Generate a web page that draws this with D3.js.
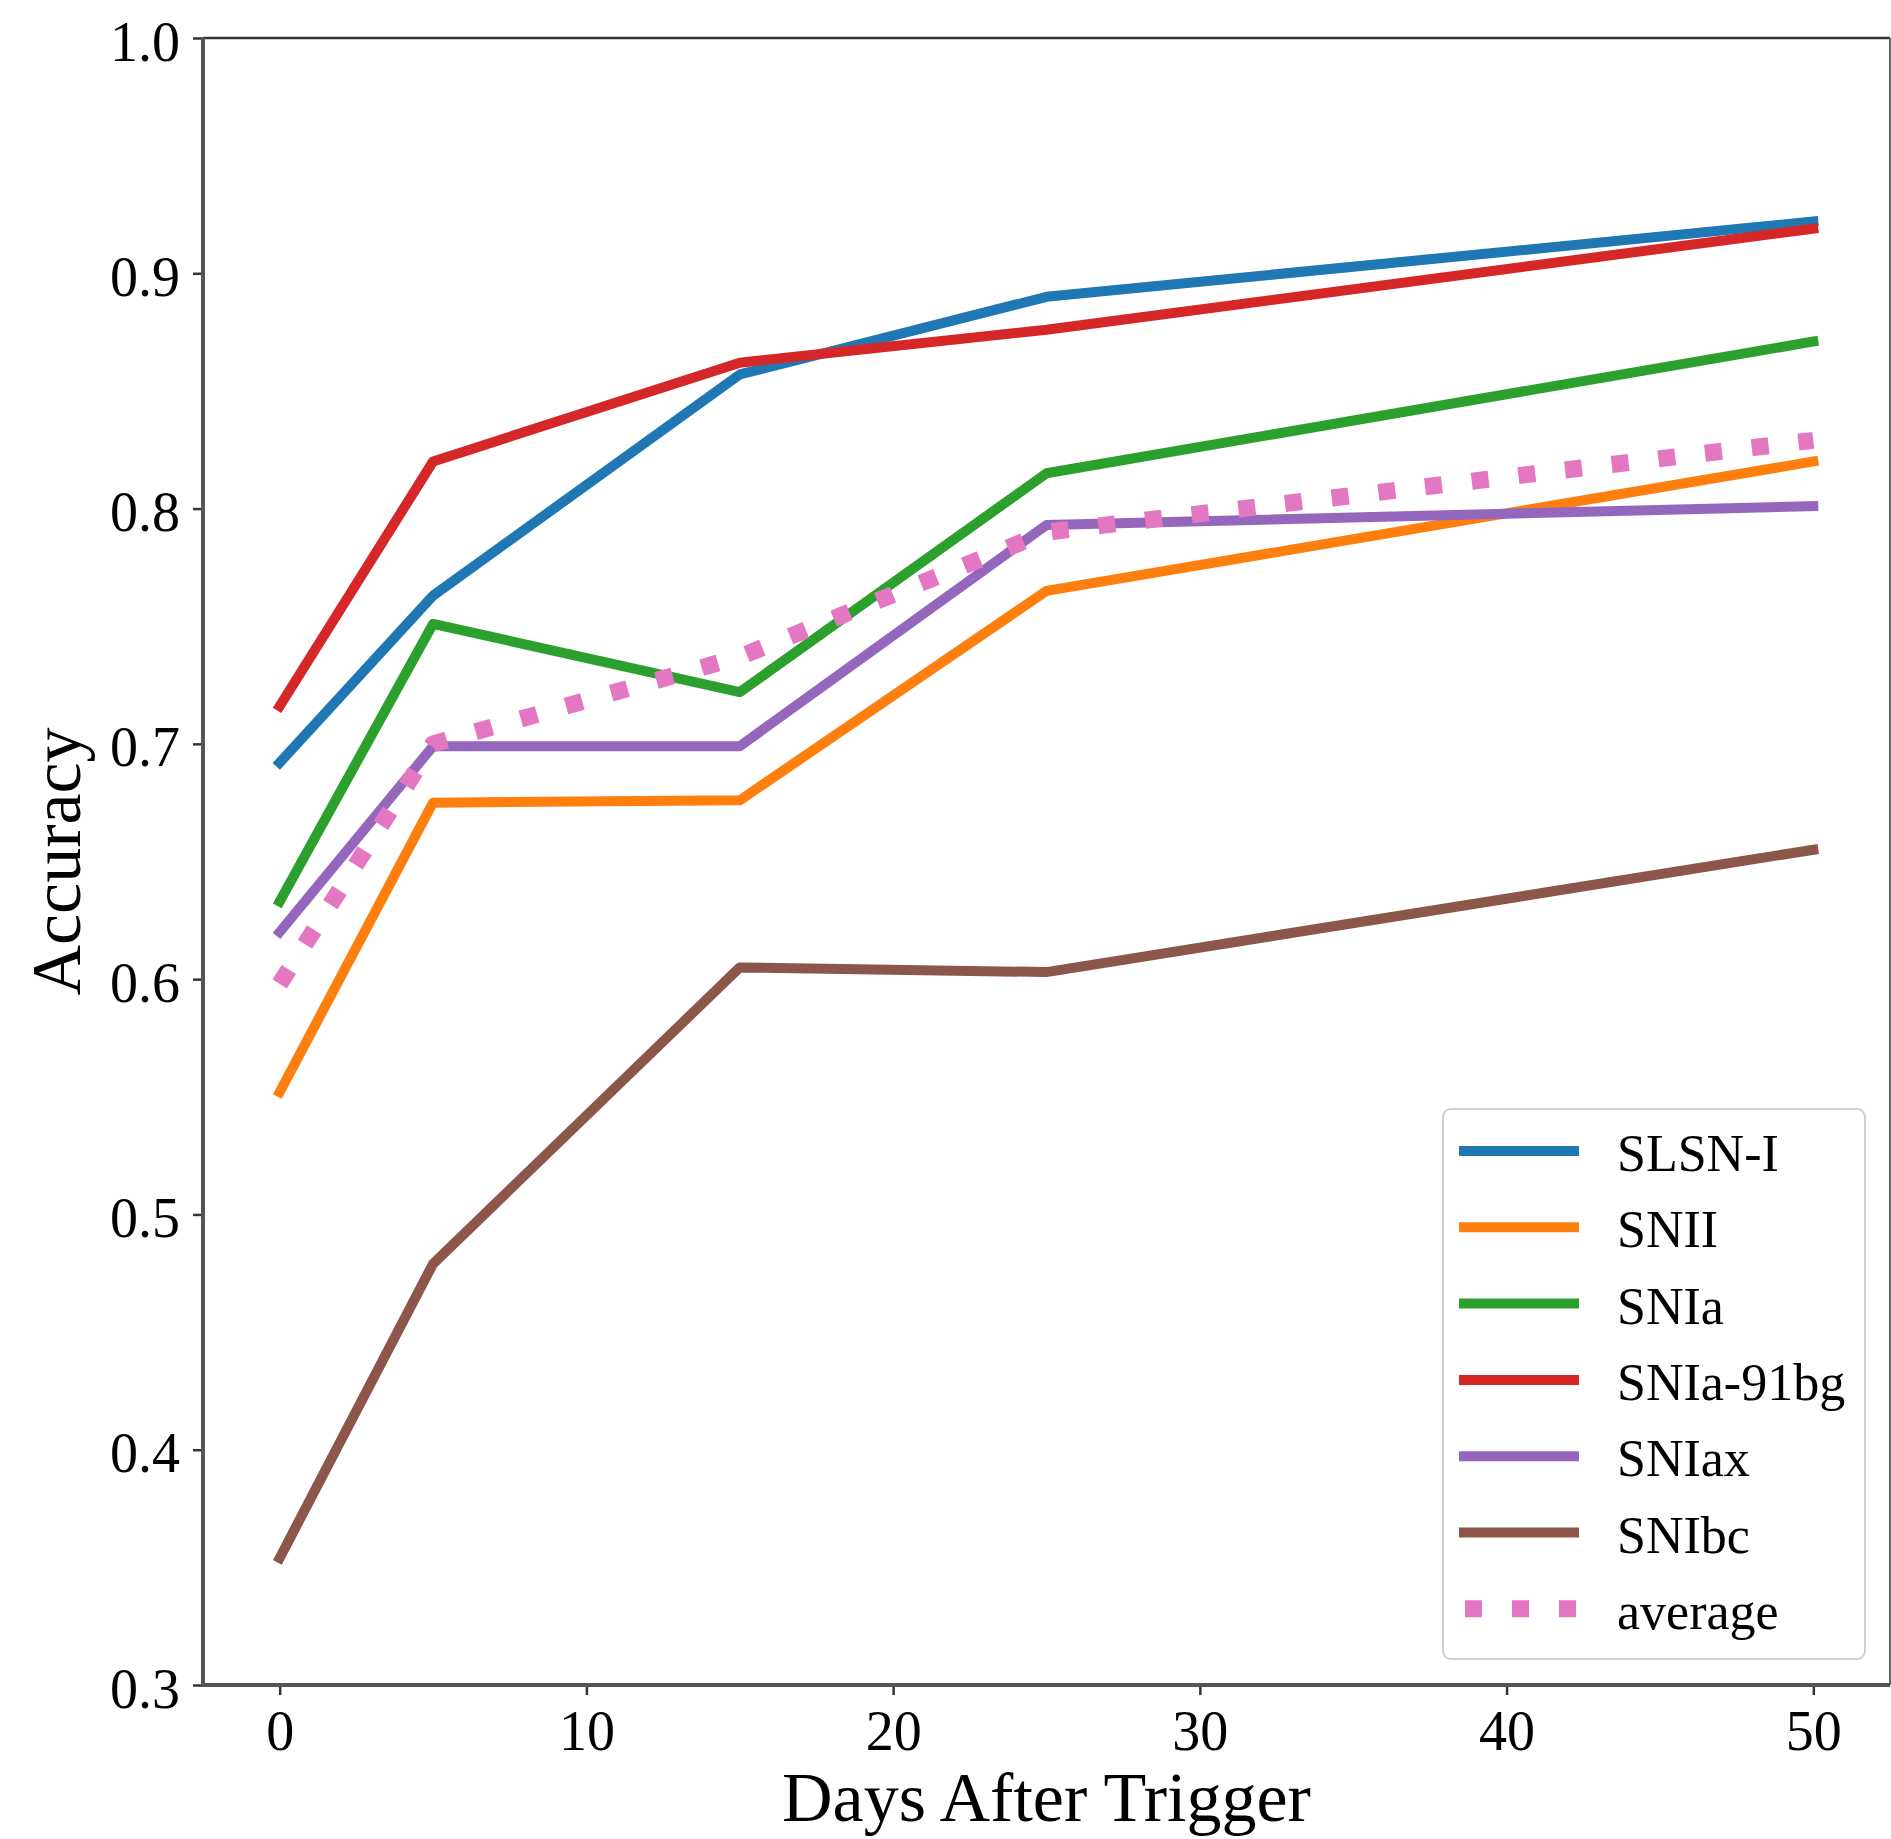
<!DOCTYPE html>
<html lang="en">
<head>
    <meta charset="UTF-8">
    <title>Accuracy vs Days After Trigger</title>
    <script src="https://cdn.jsdelivr.net/npm/d3@7/dist/d3.min.js"></script>
    <style>
        body {
            margin: 0;
            background-color: #fff;
        }
        svg text {
            font-family: "Liberation Serif", "DejaVu Serif", serif;
            fill: #000;
        }
    </style>
</head>
<body>
<div id="svgContainer"></div>

<script>
const width = 1891;
const height = 1839;
const margin = { top: 38, right: 1, bottom: 154, left: 203 };

// days after trigger
const days = [0, 5, 15, 25, 50];
const xTicks = [0, 10, 20, 30, 40, 50];
const yTicks = [0.3, 0.4, 0.5, 0.6, 0.7, 0.8, 0.9, 1.0];

// accuracy per class
const slsn = [0.692, 0.763, 0.857, 0.890, 0.922];
const snII = [0.552, 0.675, 0.676, 0.765, 0.820];
const snIa = [0.633, 0.751, 0.722, 0.815, 0.871];
const snIa91bg = [0.716, 0.820, 0.862, 0.876, 0.919];
const snIax = [0.620, 0.699, 0.699, 0.793, 0.801];
const snIbc = [0.354, 0.479, 0.605, 0.603, 0.655];
const average = [0.598, 0.700, 0.737, 0.790, 0.829];

const names = ['SLSN-I', 'SNII', 'SNIa', 'SNIa-91bg', 'SNIax', 'SNIbc', 'average'];
const colors = ['#1f77b4', '#ff7f0e', '#2ca02c', '#d62728', '#9467bd', '#8c564b', '#e377c2'];
const series = [slsn, snII, snIa, snIa91bg, snIax, snIbc, average];

const svg = d3.select('#svgContainer')
    .append('svg')
    .attr('width', width)
    .attr('height', height);

// scales (matplotlib-ish 5% margin on x)
const x = d3.scaleLinear()
    .domain([-2.5, 52.5])
    .range([margin.left, width - margin.right]);

const y = d3.scaleLinear()
    .domain([0.3, 1.0])
    .range([height - margin.bottom, margin.top]);

// axes
const xAxis = g => g
    .attr('transform', `translate(0,${height - margin.bottom})`)
    .call(d3.axisBottom(x).tickValues(xTicks).tickSize(10).tickFormat(d3.format('d')))
    .call(g => g.select('.domain').remove());

const yAxis = g => g
    .attr('transform', `translate(${margin.left},0)`)
    .call(d3.axisLeft(y).tickValues(yTicks).tickSize(10).tickPadding(13).tickFormat(d3.format('.1f')))
    .call(g => g.select('.domain').remove());

const gx = svg.append('g').call(xAxis);
gx.selectAll('line').attr('stroke', '#333').attr('stroke-width', 2.5);
gx.selectAll('text')
    .attr('y', 65)
    .attr('dy', 0)
    .style('font-size', '56px');

const gy = svg.append('g').call(yAxis);
gy.selectAll('line').attr('stroke', '#333').attr('stroke-width', 2.5);
gy.selectAll('text')
    .attr('dy', 22)
    .style('font-size', '56px');

// lines
const line = d3.line()
    .x((d, i) => x(days[i]))
    .y(d => y(d));

series.forEach((s, i) => {
    const isAvg = names[i] === 'average';
    svg.append('path')
        .attr('d', line(s))
        .attr('fill', 'none')
        .attr('stroke', colors[i])
        .attr('stroke-width', isAvg ? 17 : 10)
        .attr('stroke-linejoin', 'round')
        .attr('stroke-linecap', isAvg ? 'butt' : 'square')
        .attr('stroke-dasharray', isAvg ? '17,30' : null);
});

// frame
const x0 = margin.left, x1 = width - margin.right;
const y0 = margin.top, y1 = height - margin.bottom;
svg.append('line').attr('x1', x0).attr('x2', x1).attr('y1', y0).attr('y2', y0)
    .attr('stroke', '#333').attr('stroke-width', 2.5);
svg.append('line').attr('x1', x1).attr('x2', x1).attr('y1', y0).attr('y2', y1)
    .attr('stroke', '#666').attr('stroke-width', 2);
svg.append('line').attr('x1', x0).attr('x2', x0).attr('y1', y0 - 1).attr('y2', y1 + 2)
    .attr('stroke', '#555').attr('stroke-width', 4);
svg.append('line').attr('x1', x0 - 2).attr('x2', x1).attr('y1', y1).attr('y2', y1)
    .attr('stroke', '#555').attr('stroke-width', 4);

// axis titles
svg.append('text')
    .attr('x', (x0 + x1) / 2)
    .attr('y', 1821)
    .attr('text-anchor', 'middle')
    .style('font-size', '70px')
    .text('Days After Trigger');

svg.append('text')
    .attr('transform', `translate(80,${(y0 + y1) / 2}) rotate(-90)`)
    .attr('text-anchor', 'middle')
    .style('font-size', '70px')
    .text('Accuracy');

// legend
const legend = svg.append('g').attr('transform', 'translate(1443,1109)');
legend.append('rect')
    .attr('width', 422)
    .attr('height', 550)
    .attr('rx', 8)
    .attr('fill', '#fff')
    .attr('fill-opacity', 0.8)
    .attr('stroke', '#d0d0d0')
    .attr('stroke-width', 2);

names.forEach((n, i) => {
    const ly = 42 + i * 76.3;
    const isAvg = n === 'average';
    legend.append('line')
        .attr('x1', 16)
        .attr('x2', 136)
        .attr('y1', ly)
        .attr('y2', ly)
        .attr('stroke', colors[i])
        .attr('stroke-width', isAvg ? 17 : 10)
        .attr('stroke-dasharray', isAvg ? '17,30' : null)
        .attr('stroke-dashoffset', isAvg ? 41 : 0);
    legend.append('text')
        .attr('x', 174)
        .attr('y', ly + 20)
        .style('font-size', '52px')
        .text(n);
});
</script>
</body>
</html>
